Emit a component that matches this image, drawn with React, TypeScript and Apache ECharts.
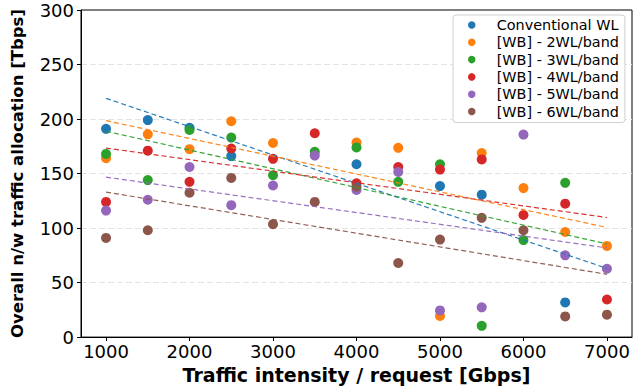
import React, { useEffect, useRef } from "react";
import * as echarts from "echarts";

const categories = [1000, 1500, 2000, 2500, 3000, 3500, 4000, 4500, 5000, 5500, 6000, 6500, 7000];
const xTicks = [1000, 2000, 3000, 4000, 5000, 6000, 7000];

const seriesNames = [
  "Conventional WL",
  "[WB] - 2WL/band",
  "[WB] - 3WL/band",
  "[WB] - 4WL/band",
  "[WB] - 5WL/band",
  "[WB] - 6WL/band",
];
const colors = ["#1f77b4", "#ff7f0e", "#2ca02c", "#d62728", "#9467bd", "#8c564b"];

const conventional = [191, 199, 192, 166, null, null, 158.5, null, 138.5, 130.6, null, 31.8, null];
const wb2 = [164, 186, 172.4, 198, 178, null, 178.5, 173.6, 19.4, 168.8, 136.7, 96.4, 83.6];
const wb3 = [168, 144, 190, 183, 148.5, 170, 174, 142.4, 158.5, 10.3, 89, 141.5, null];
const wb4 = [124, 171, 142.4, 173, 163.5, 187, 141, 156, 153.6, 163, 112, 122.4, 34.5];
const wb5 = [116, 126, 156, 121, 139, 166.5, 135, 151.5, 24.5, 27.3, 185.7, 75, 62.7];
const wb6 = [91, 98, 132.4, 146, 103.6, 124, 138, 68, 89.4, 109.4, 98, 19, 20.6];

// trend line values at x = 1000 and x = 7000
const trendX = [1000, 7000];
const trendConventional = [219, 63];
const trendWb2 = [198.5, 100.6];
const trendWb3 = [188.8, 85.5];
const trendWb4 = [173.4, 109.7];
const trendWb5 = [146.7, 81.8];
const trendWb6 = [133, 57.6];

const allValues = [conventional, wb2, wb3, wb4, wb5, wb6];
const allTrends = [trendConventional, trendWb2, trendWb3, trendWb4, trendWb5, trendWb6];

const FONT = "DejaVu Sans";

export default function App() {
  const ref = useRef<HTMLDivElement>(null);
  useEffect(() => {
    if (!ref.current) return;
    document.body.style.margin = "0";
    const chart = echarts.init(ref.current, undefined, { renderer: "svg" });
    const scatterSeries = seriesNames.map((name, i) => ({
      name,
      type: "scatter",
      symbol: "circle",
      symbolSize: 10,
      itemStyle: { color: colors[i], opacity: 1 },
      z: 2,
      data: categories
        .map((x, j) => [x, allValues[i][j]])
        .filter((d) => d[1] !== null),
    }));
    const lineSeries = allTrends.map((t, i) => ({
      name: "trend" + i,
      type: "line",
      symbol: "none",
      silent: true,
      z: 3,
      lineStyle: { color: colors[i], width: 1.2, type: [5, 3], opacity: 0.95 },
      data: trendX.map((x, j) => [x, t[j]]),
    }));
    chart.setOption({
      animation: false,
      backgroundColor: "#fff",
      textStyle: { fontFamily: FONT },
      grid: {
        left: 81,
        right: 3,
        top: 10,
        bottom: 49,
        show: true,
        borderColor: "#000",
        borderWidth: 1,
        containLabel: false,
      },
      legend: {
        data: seriesNames,
        orient: "vertical",
        left: 453,
        top: 15,
        padding: [3, 6, 4, 15],
        backgroundColor: "#fff",
        borderColor: "#d0d0d0",
        borderWidth: 1,
        borderRadius: 3,
        icon: "circle",
        itemWidth: 12,
        itemHeight: 7.5,
        itemGap: 3.3,
        textStyle: {
          fontFamily: FONT,
          fontSize: 14.4,
          color: "#000",
          lineHeight: 14,
          padding: [0, 0, 0, 14],
        },
      },
      xAxis: {
        type: "value",
        min: 700,
        max: 7300,
        name: "Traffic intensity / request [Gbps]",
        nameLocation: "middle",
        nameGap: 26,
        nameTextStyle: { fontFamily: FONT, fontSize: 19, fontWeight: "bold", color: "#000" },
        axisLine: { show: true, lineStyle: { color: "#000", width: 1 } },
        axisTick: { show: true, length: 4, lineStyle: { color: "#000" }, customValues: xTicks },
        axisLabel: {
          customValues: xTicks,
          formatter: (v: number) => String(v),
          fontFamily: FONT,
          fontSize: 18,
          color: "#000",
          margin: 5,
        },
        splitLine: { show: false },
      },
      yAxis: {
        type: "value",
        min: 0,
        max: 300,
        interval: 50,
        name: "Overall n/w traffic allocation [Tbps]",
        nameLocation: "middle",
        nameGap: 55,
        nameTextStyle: { fontFamily: FONT, fontSize: 16.5, fontWeight: "bold", color: "#000" },
        axisLine: { show: true, lineStyle: { color: "#000", width: 1 } },
        axisTick: { show: true, length: 4, lineStyle: { color: "#000" } },
        axisLabel: { fontFamily: FONT, fontSize: 18, color: "#000", margin: 7 },
        splitLine: {
          show: true,
          showMinLine: false,
          showMaxLine: false,
          lineStyle: { color: "#e3e3e3", width: 1, type: [6, 3] },
        },
      },
      series: [...scatterSeries, ...lineSeries],
    });
    return () => chart.dispose();
  }, []);
  return <div ref={ref} style={{ width: 635, height: 389 }} />;
}
